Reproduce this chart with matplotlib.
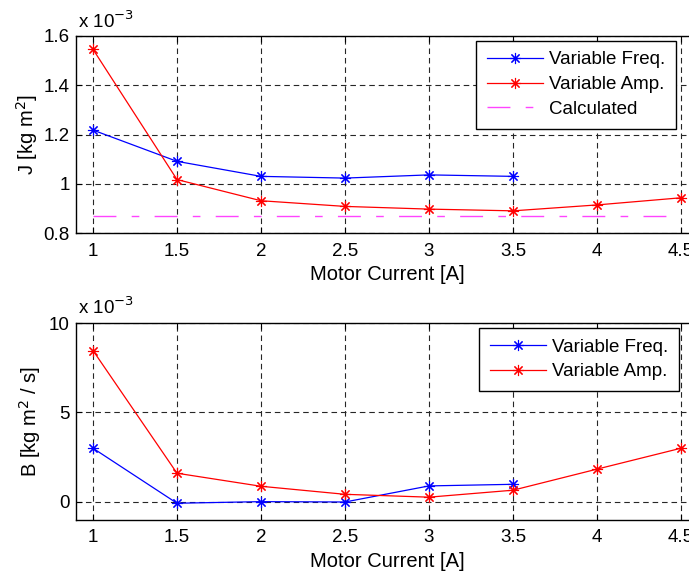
import matplotlib
matplotlib.use('Agg')
import matplotlib.pyplot as plt

plt.rcParams['font.family'] = ['Liberation Sans', 'DejaVu Sans']
plt.rcParams['font.size'] = 13.5

# motor current [A]
current_freq = [1, 1.5, 2, 2.5, 3, 3.5]
current_amp = [1, 1.5, 2, 2.5, 3, 3.5, 4, 4.5]

# J values, units of 1e-3 kg m^2
j_freq = [1.218, 1.091, 1.030, 1.023, 1.036, 1.030]
j_amp = [1.546, 1.017, 0.931, 0.908, 0.897, 0.890, 0.914, 0.943]
j_calc = 0.868
calc_range = [1, 4.5]

# B values, units of 1e-3 kg m^2 / s
b_freq = [2.99, -0.09, 0.0, -0.02, 0.88, 0.97]
b_amp = [8.46, 1.59, 0.86, 0.41, 0.25, 0.64, 1.82, 2.99]

x_ticks = [1, 1.5, 2, 2.5, 3, 3.5, 4, 4.5]
x_ticklabels = ['1', '1.5', '2', '2.5', '3', '3.5', '4', '4.5']

W, H = 689, 579
fig = plt.figure(figsize=(W / 100, H / 100), dpi=100)

ax_l = 76.2 / W
ax_w = 621.6 / W
ax1 = fig.add_axes([ax_l, 1 - 233 / H, ax_w, 197 / H])
ax2 = fig.add_axes([ax_l, 1 - 519.5 / H, ax_w, 196.5 / H])

star = (8, 2, 0)
mk = dict(marker=star, markersize=8, linewidth=0.9, markeredgewidth=0.8)

def style(ax):
    ax.set_xlim(0.9, 4.6)
    ax.set_xticks(x_ticks)
    ax.set_xticklabels(x_ticklabels)
    ax.tick_params(direction='in', top=True, right=True, length=4, width=0.8,
                   labelsize=13.5)
    ax.tick_params(axis='x', pad=7)
    ax.tick_params(axis='y', pad=4.5)
    ax.grid(True, color='0.15', linestyle=(0, (5, 3.5)), linewidth=0.8)
    for s in ax.spines.values():
        s.set_linewidth(1.0)
    ax.set_xlabel('Motor Current [A]', fontsize=14.5, labelpad=4)

legend_kw = dict(loc='upper left', fancybox=False, edgecolor='black',
                 framealpha=1, fontsize=13.5, handlelength=3.0, borderpad=0.58,
                 labelspacing=0.4, handletextpad=0.33, borderaxespad=0)

# top: inertia
ax1.plot(current_freq, j_freq, color='blue', label='Variable Freq.', **mk)
ax1.plot(current_amp, j_amp, color='red', label='Variable Amp.', **mk)
ax1.plot(calc_range, [j_calc, j_calc], color='#ff44ff',
         linestyle=(0, (16.5, 11, 5.5, 11)), linewidth=1.0, label='Calculated')
ax1.set_ylim(0.8, 1.6)
ax1.set_yticks([0.8, 1.0, 1.2, 1.4, 1.6])
ax1.set_yticklabels(['0.8', '1', '1.2', '1.4', '1.6'])
ax1.set_ylabel('J [kg m$^2$]', fontsize=14.5, labelpad=3)
style(ax1)
leg1 = ax1.legend(**legend_kw)
leg1.set_bbox_to_anchor(((476 - 76.2) / 621.6, 1 - 4.5 / 197), transform=ax1.transAxes)
leg1.get_frame().set_linewidth(1.0)
fig.text(78 / W, 1 - 21 / H, 'x 10$^{-3}$', fontsize=13.5, va='center')

# bottom: damping
ax2.plot(current_freq, b_freq, color='blue', label='Variable Freq.', **mk)
ax2.plot(current_amp, b_amp, color='red', label='Variable Amp.', **mk)
ax2.set_ylim(-1, 10)
ax2.set_yticks([0, 5, 10])
ax2.set_ylabel('B [kg m$^2$ / s]', fontsize=14.5, labelpad=4.5)
style(ax2)
leg2 = ax2.legend(**legend_kw)
leg2.set_bbox_to_anchor(((479 - 76.2) / 621.6, 1 - 4.5 / 196.5), transform=ax2.transAxes)
leg2.get_frame().set_linewidth(1.0)
fig.text(78 / W, 1 - 307 / H, 'x 10$^{-3}$', fontsize=13.5, va='center')

fig.savefig('out.png', dpi=100)
